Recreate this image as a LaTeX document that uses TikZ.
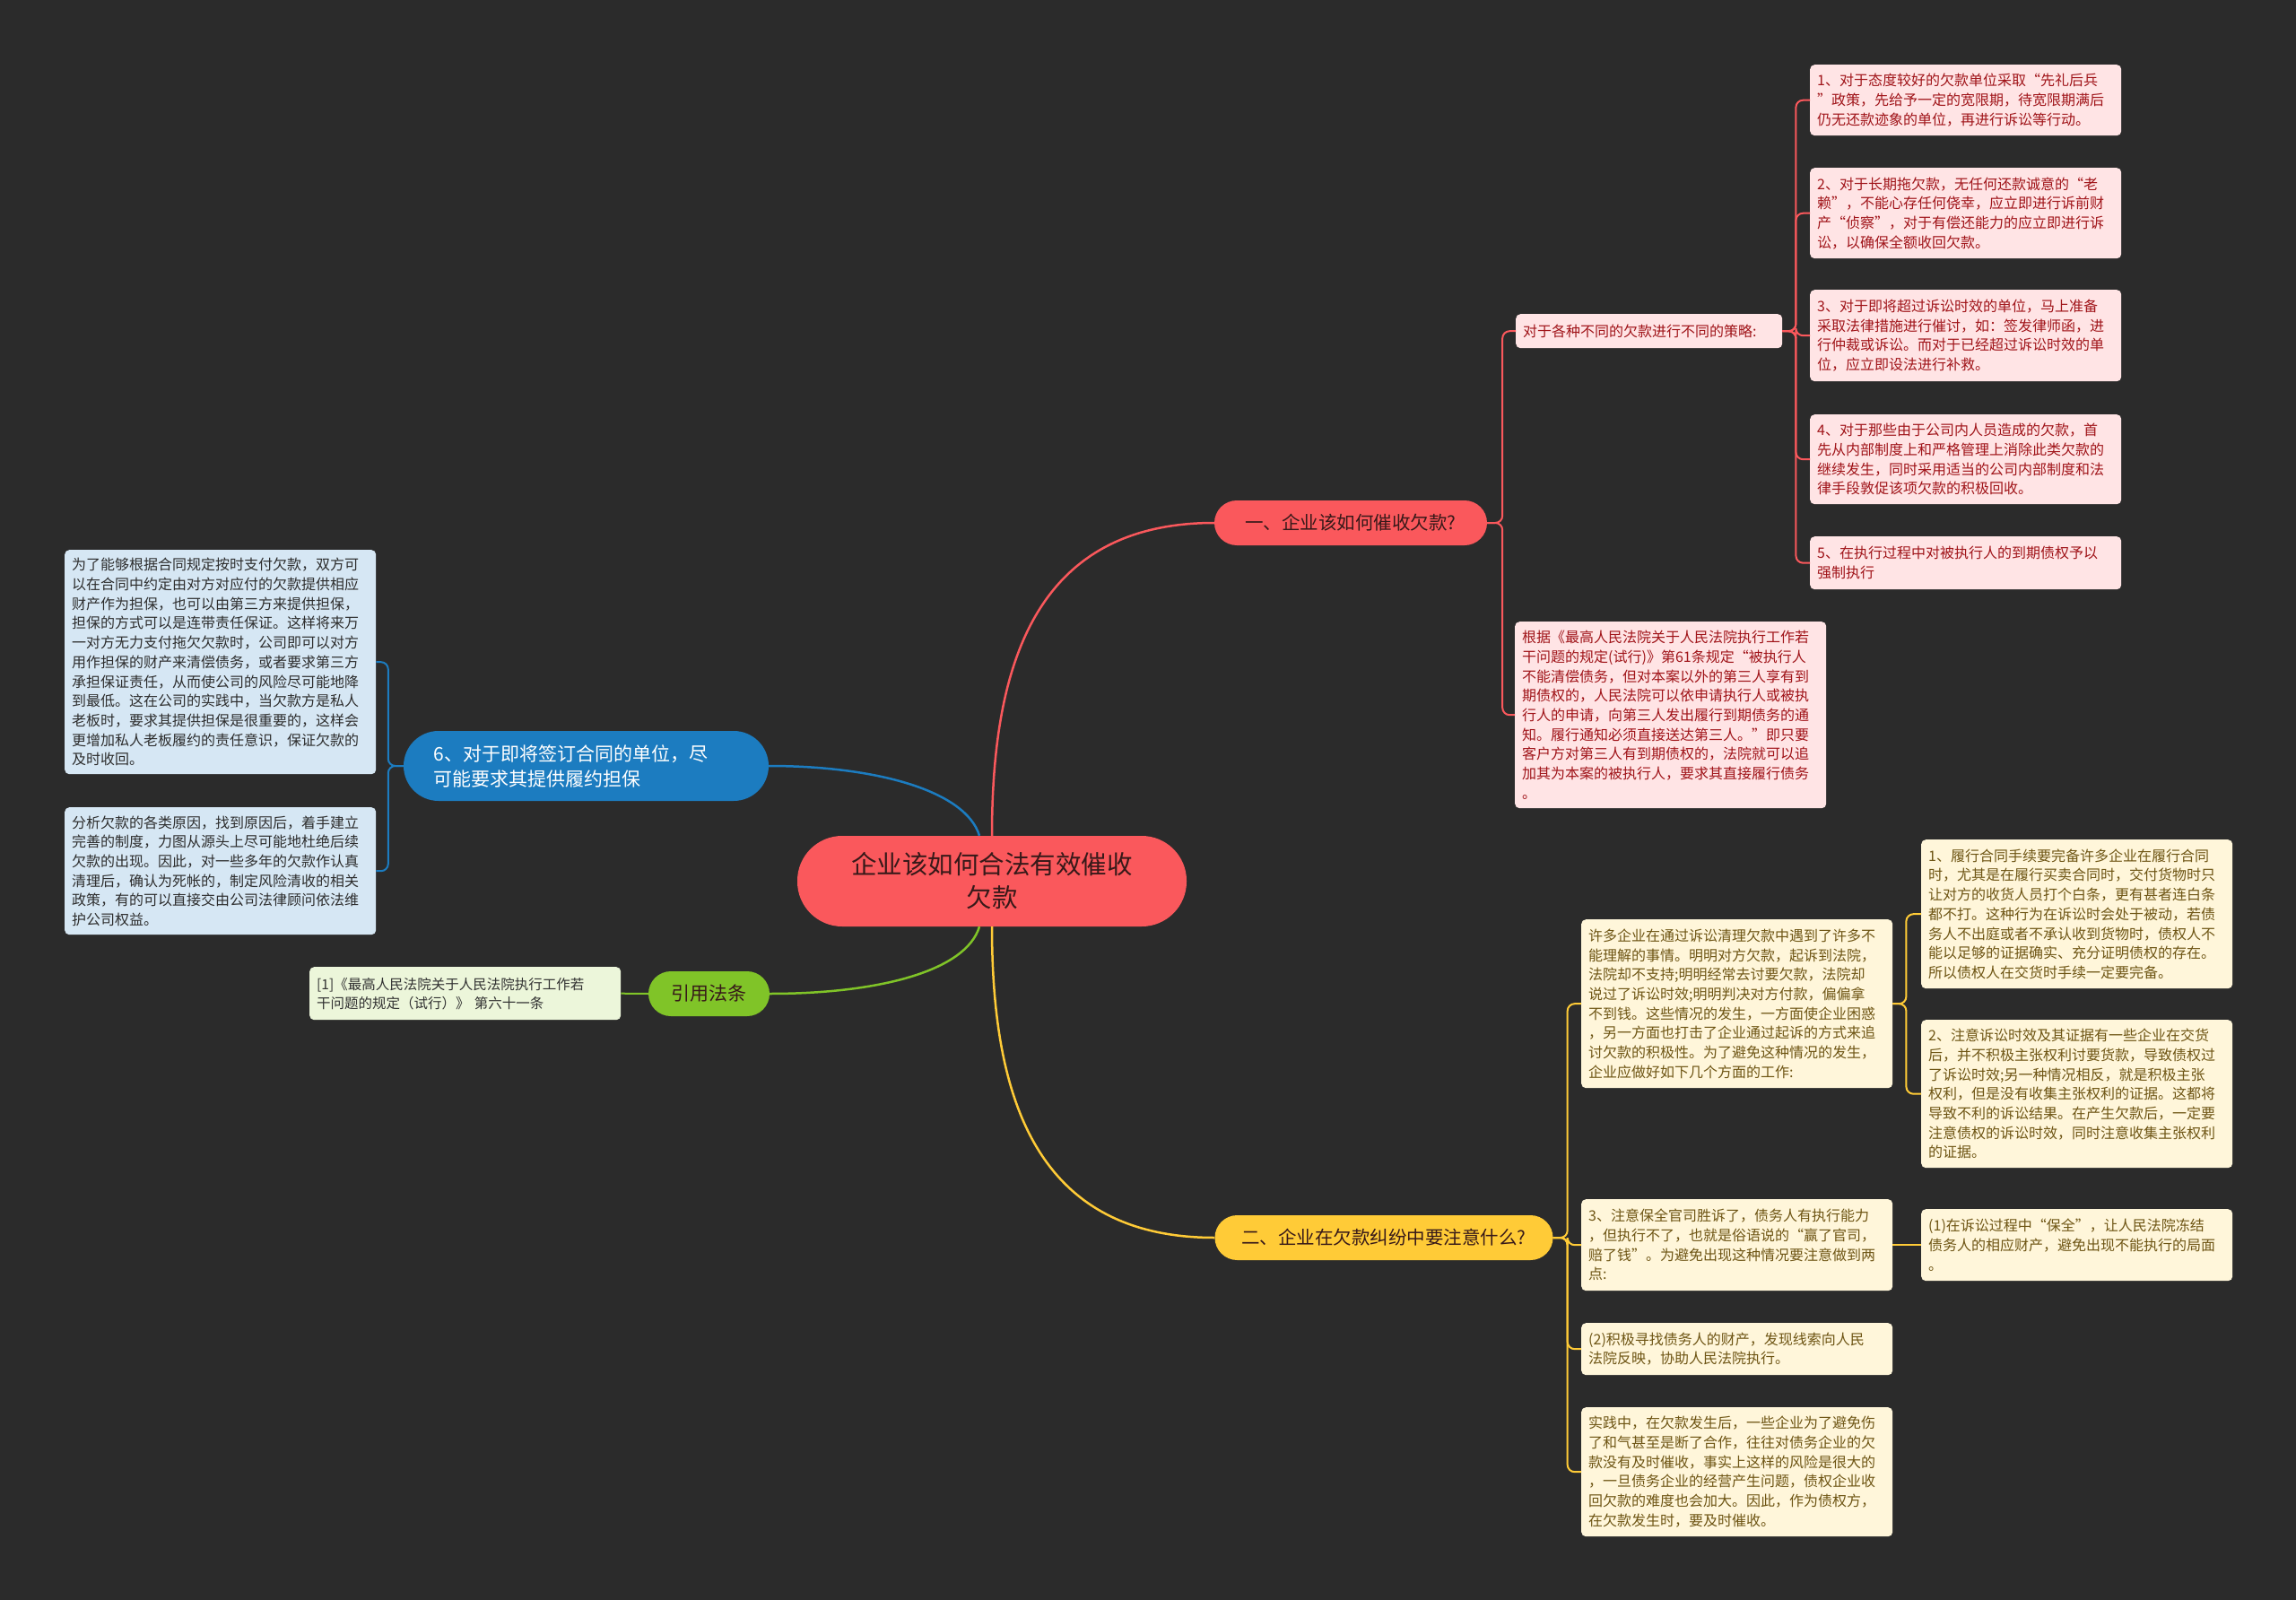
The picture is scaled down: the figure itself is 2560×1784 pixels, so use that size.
\documentclass[tikz,border=0pt]{standalone}
\usepackage{fontspec}
\setmainfont{Noto Sans CJK SC}
\usepackage{xcolor}
\usepackage{tikz}

\definecolor{bgdark}{RGB}{43,43,43}
\definecolor{redmain}{RGB}{250,88,92}
\definecolor{yellowmain}{RGB}{255,203,55}
\definecolor{bluemain}{RGB}{28,124,192}
\definecolor{greenmain}{RGB}{128,196,40}
\definecolor{redfill}{RGB}{255,228,229}
\definecolor{redtext}{RGB}{160,20,25}
\definecolor{yellowfill}{RGB}{255,246,218}
\definecolor{yellowtext}{RGB}{110,85,20}
\definecolor{bluefill}{RGB}{214,231,244}
\definecolor{bluetext}{RGB}{45,45,45}
\definecolor{greenfill}{RGB}{236,246,218}
\definecolor{greentext}{RGB}{50,50,50}
\definecolor{darktext}{RGB}{55,25,25}

\begin{document}
\begin{tikzpicture}[x=1pt,y=-1pt,
  leaf/.style={anchor=north west, rounded corners=5pt, inner xsep=8pt, inner ysep=4pt,
    text width=331pt, align=left, font=\fontsize{16}{21.7}\selectfont},
  redleaf/.style={leaf, fill=redfill, text=redtext},
  yellowleaf/.style={leaf, fill=yellowfill, text=yellowtext},
  blueleaf/.style={leaf, fill=bluefill, text=bluetext},
  greenleaf/.style={leaf, fill=greenfill, text=greentext, font=\fontsize{15.5}{21}\selectfont},
  topic/.style={align=center, inner sep=0pt},
  mainline/.style={line width=2.5pt},
  subline/.style={line width=2pt, rounded corners=8pt},
]
% Background
\useasboundingbox (0,0) rectangle (2560,1784);
\fill[bgdark] (0,0) rectangle (2560,1784);

% Central topic
\node[topic, fill=redmain, text=darktext, minimum width=434pt, minimum height=101pt,
  rounded corners=50pt, font=\fontsize{28.5}{37}\selectfont] (root) at (1106,982.5)
  {企业该如何合法有效催收\\欠款};

% Main branches
\node[topic, fill=redmain, text=darktext, minimum width=304pt, minimum height=50pt,
  rounded corners=25pt, font=\fontsize{20.5}{26}\selectfont] (b1) at (1506,583)
  {一、企业该如何催收欠款?};
\node[topic, fill=yellowmain, text=darktext, minimum width=377pt, minimum height=50pt,
  rounded corners=25pt, font=\fontsize{20.5}{26}\selectfont] (b2) at (1543,1380)
  {二、企业在欠款纠纷中要注意什么?};
\node[fill=bluemain, text=white, text width=340pt, align=left, inner xsep=33.5pt, inner ysep=0pt,
  minimum height=78pt, rounded corners=39pt, font=\fontsize{21}{28}\selectfont] (b6) at (653.5,854)
  {6、对于即将签订合同的单位，尽\\可能要求其提供履约担保};
\node[topic, fill=greenmain, text=darktext, minimum width=135pt, minimum height=50pt,
  rounded corners=25pt, font=\fontsize{21}{26}\selectfont] (law) at (790.5,1108)
  {引用法条};

% Branch 1 - strategies
\node[redleaf, text width=281pt, minimum height=38pt] (s1) at (1690,350)
  {对于各种不同的欠款进行不同的策略:};
\node[redleaf, minimum height=79pt] (r1) at (2018,72)
  {1、对于态度较好的欠款单位采取“先礼后兵\\”政策，先给予一定的宽限期，待宽限期满后\\仍无还款迹象的单位，再进行诉讼等行动。};
\node[redleaf, minimum height=101pt] (r2) at (2018,187)
  {2、对于长期拖欠款，无任何还款诚意的“老\\赖”，不能心存任何侥幸，应立即进行诉前财\\产“侦察”，对于有偿还能力的应立即进行诉\\讼，以确保全额收回欠款。};
\node[redleaf, minimum height=102pt] (r3) at (2018,323)
  {3、对于即将超过诉讼时效的单位，马上准备\\采取法律措施进行催讨，如：签发律师函，进\\行仲裁或诉讼。而对于已经超过诉讼时效的单\\位，应立即设法进行补救。};
\node[redleaf, minimum height=100pt] (r4) at (2018,462)
  {4、对于那些由于公司内人员造成的欠款，首\\先从内部制度上和严格管理上消除此类欠款的\\继续发生，同时采用适当的公司内部制度和法\\律手段敦促该项欠款的积极回收。};
\node[redleaf, minimum height=59pt] (r5) at (2018,598)
  {5、在执行过程中对被执行人的到期债权予以\\强制执行};
\node[redleaf, minimum height=208pt] (lg) at (1689,693)
  {根据《最高人民法院关于人民法院执行工作若\\干问题的规定(试行)》第61条规定“被执行人\\不能清偿债务，但对本案以外的第三人享有到\\期债权的，人民法院可以依申请执行人或被执\\行人的申请，向第三人发出履行到期债务的通\\知。履行通知必须直接送达第三人。”即只要\\客户方对第三人有到期债权的，法院就可以追\\加其为本案的被执行人，要求其直接履行债务\\。};

% Branch 2 - points of attention
\node[yellowleaf, minimum height=188pt] (y1) at (1763,1025)
  {许多企业在通过诉讼清理欠款中遇到了许多不\\能理解的事情。明明对方欠款，起诉到法院，\\法院却不支持;明明经常去讨要欠款，法院却\\说过了诉讼时效;明明判决对方付款，偏偏拿\\不到钱。这些情况的发生，一方面使企业困惑\\，另一方面也打击了企业通过起诉的方式来追\\讨欠款的积极性。为了避免这种情况的发生，\\企业应做好如下几个方面的工作:};
\node[yellowleaf, minimum height=166pt] (ya) at (2142,936)
  {1、履行合同手续要完备许多企业在履行合同\\时，尤其是在履行买卖合同时，交付货物时只\\让对方的收货人员打个白条，更有甚者连白条\\都不打。这种行为在诉讼时会处于被动，若债\\务人不出庭或者不承认收到货物时，债权人不\\能以足够的证据确实、充分证明债权的存在。\\所以债权人在交货时手续一定要完备。};
\node[yellowleaf, minimum height=165pt] (yb) at (2142,1137)
  {2、注意诉讼时效及其证据有一些企业在交货\\后，并不积极主张权利讨要货款，导致债权过\\了诉讼时效;另一种情况相反，就是积极主张\\权利，但是没有收集主张权利的证据。这都将\\导致不利的诉讼结果。在产生欠款后，一定要\\注意债权的诉讼时效，同时注意收集主张权利\\的证据。};
\node[yellowleaf, minimum height=102pt] (y3) at (1763,1337)
  {3、注意保全官司胜诉了，债务人有执行能力\\，但执行不了，也就是俗语说的“赢了官司，\\赔了钱”。为避免出现这种情况要注意做到两\\点:};
\node[yellowleaf, minimum height=80pt] (yc) at (2142,1348)
  {(1)在诉讼过程中“保全”，让人民法院冻结\\债务人的相应财产，避免出现不能执行的局面\\。};
\node[yellowleaf, minimum height=58pt] (y4) at (1763,1475)
  {(2)积极寻找债务人的财产，发现线索向人民\\法院反映，协助人民法院执行。};
\node[yellowleaf, minimum height=144pt] (y5) at (1763,1569)
  {实践中，在欠款发生后，一些企业为了避免伤\\了和气甚至是断了合作，往往对债务企业的欠\\款没有及时催收，事实上这样的风险是很大的\\，一旦债务企业的经营产生问题，债权企业收\\回欠款的难度也会加大。因此，作为债权方，\\在欠款发生时，要及时催收。};

% Branch 6 - guarantees
\node[blueleaf, minimum height=250pt] (g1) at (72,613)
  {为了能够根据合同规定按时支付欠款，双方可\\以在合同中约定由对方对应付的欠款提供相应\\财产作为担保，也可以由第三方来提供担保，\\担保的方式可以是连带责任保证。这样将来万\\一对方无力支付拖欠欠款时，公司即可以对方\\用作担保的财产来清偿债务，或者要求第三方\\承担保证责任，从而使公司的风险尽可能地降\\到最低。这在公司的实践中，当欠款方是私人\\老板时，要求其提供担保是很重要的，这样会\\更增加私人老板履约的责任意识，保证欠款的\\及时收回。};
\node[blueleaf, minimum height=142pt] (g2) at (72,900)
  {分析欠款的各类原因，找到原因后，着手建立\\完善的制度，力图从源头上尽可能地杜绝后续\\欠款的出现。因此，对一些多年的欠款作认真\\清理后，确认为死帐的，制定风险清收的相关\\政策，有的可以直接交由公司法律顾问依法维\\护公司权益。};

% Cited law
\node[greenleaf, minimum height=59pt] (gl) at (345,1078)
  {[1]《最高人民法院关于人民法院执行工作若\\干问题的规定（试行）》 第六十一条};

% Curves from the central topic
\draw[mainline, redmain] (root.north) .. controls +(0,-190) and +(-200,0) .. (b1.west);
\draw[mainline, yellowmain] (root.south) .. controls +(0,190) and +(-200,0) .. (b2.west);
\draw[mainline, bluemain] ([xshift=-14pt]root.north) .. controls +(-15,-50) and +(120,0) .. (b6.east);
\draw[mainline, greenmain] ([xshift=-14pt]root.south) .. controls +(-15,50) and +(120,0) .. (law.east);

% Brackets
\foreach \n in {s1,lg} {
  \draw[subline, redmain] (b1.east) -- ++(17,0) |- (\n.west);
}
\foreach \n in {r1,r2,r3,r4,r5} {
  \draw[subline, redmain] (s1.east) -- ++(15,0) |- (\n.west);
}
\foreach \n in {y1,y3,y4,y5} {
  \draw[subline, yellowmain] (b2.east) -- ++(16,0) |- (\n.west);
}
\foreach \n in {ya,yb} {
  \draw[subline, yellowmain] (y1.east) -- ++(15,0) |- (\n.west);
}
\draw[subline, yellowmain] (y3.east) -- (yc.west);
\foreach \n in {g1,g2} {
  \draw[subline, bluemain] (b6.west) -- ++(-17,0) |- (\n.east);
}
\draw[subline, greenmain] (law.west) -- (gl.east);

\end{tikzpicture}
\end{document}
